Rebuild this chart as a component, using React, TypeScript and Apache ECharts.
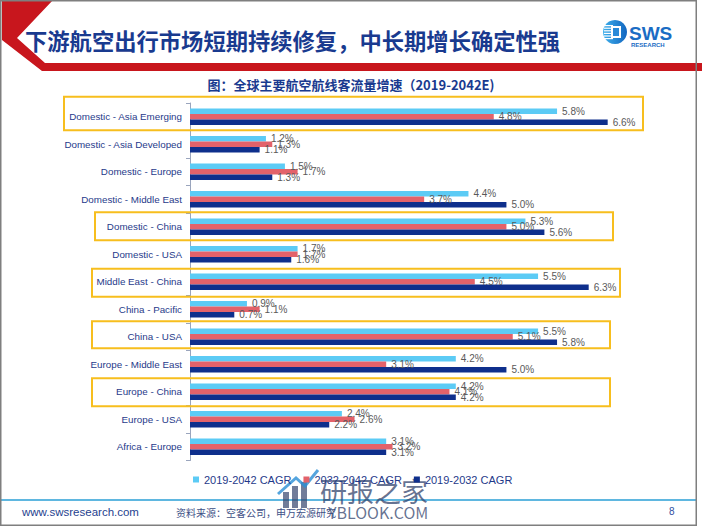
import React, { useEffect, useRef } from "react";
import * as echarts from "echarts";

const categories = [
  "Domestic - Asia Emerging",
  "Domestic - Asia Developed",
  "Domestic - Europe",
  "Domestic - Middle East",
  "Domestic - China",
  "Domestic - USA",
  "Middle East - China",
  "China - Pacific",
  "China - USA",
  "Europe - Middle East",
  "Europe - China",
  "Europe - USA",
  "Africa - Europe",
];
const cagr2019to2042 = [5.8, 1.2, 1.5, 4.4, 5.3, 1.7, 5.5, 0.9, 5.5, 4.2, 4.2, 2.4, 3.1];
const cagr2032to2042 = [4.8, 1.3, 1.7, 3.7, 5.0, 1.7, 4.5, 1.1, 5.1, 3.1, 4.1, 2.6, 3.2];
const cagr2019to2032 = [6.6, 1.1, 1.3, 5.0, 5.6, 1.6, 6.3, 0.7, 5.8, 5.0, 4.2, 2.2, 3.1];
const seriesNames = ["2019-2042 CAGR", "2032-2042 CAGR", "2019-2032 CAGR"];
const seriesColors = ["#5CCBF5", "#E3626A", "#0E2F8C"];
const highlighted = [
  "Domestic - Asia Emerging",
  "Domestic - China",
  "Middle East - China",
  "China - USA",
  "Europe - China",
];

const TITLE = "下游航空出行市场短期持续修复，中长期增长确定性强";
const SUBTITLE = "图：全球主要航空航线客流量增速（2019-2042E)";
const SOURCE = "资料来源：空客公司，申万宏源研究";

// highlight box horizontal extents (decoration) and paddings around the category centre
const boxSpecs = [
  { x0: 64, x1: 643, top: 20, bottom: 13.5 },
  { x0: 95, x1: 613, top: 14.5, bottom: 13.5 },
  { x0: 92, x1: 620, top: 13, bottom: 15 },
  { x0: 92, x1: 610, top: 15.5, bottom: 11.5 },
  { x0: 92, x1: 610, top: 13.5, bottom: 14.5 },
];

const CJK = "'Noto Sans CJK SC', 'Noto Sans', sans-serif";
const LATIN = "'Liberation Sans', Arial, sans-serif";

export default function App() {
  const ref = useRef<HTMLDivElement>(null);

  useEffect(() => {
    if (!ref.current) return;
    const chart = echarts.init(ref.current, undefined, { renderer: "svg" });
    const dataSets = [cagr2019to2042, cagr2032to2042, cagr2019to2032];

    chart.setOption({
      animation: false,
      backgroundColor: "#ffffff",
      grid: { left: 190, right: 69, top: 103, bottom: 66.5, containLabel: false },
      xAxis: { type: "value", min: 0, max: 7, show: false },
      yAxis: {
        type: "category",
        inverse: true,
        data: categories,
        axisLine: { show: true, lineStyle: { color: "#9aa5bd", width: 1 } },
        axisTick: { show: true, length: 4, lineStyle: { color: "#9aa5bd" } },
        axisLabel: { fontSize: 9.8, color: "#1f3a8a", margin: 8, fontFamily: LATIN },
        splitLine: { show: false },
      },
      legend: {
        data: seriesNames,
        left: 193,
        top: 474,
        padding: 0,
        icon: "rect",
        itemWidth: 6,
        itemHeight: 6,
        itemGap: 12,
        textStyle: { fontSize: 11, color: "#1f3a8a", fontFamily: LATIN },
      },
      series: seriesNames.map((name, i) => ({
        name,
        type: "bar",
        data: dataSets[i],
        barWidth: 5.5,
        barGap: "0%",
        itemStyle: { color: seriesColors[i] },
        label: {
          show: true,
          position: "right",
          distance: 5,
          fontSize: 10,
          color: "#595959",
          fontFamily: LATIN,
          formatter: (p: any) => Number(p.value).toFixed(1) + "%",
        },
      })),
    });

    const boxes = highlighted.map((cat, i) => {
      const cy = chart.convertToPixel({ yAxisIndex: 0 }, cat) as number;
      const s = boxSpecs[i];
      return {
        type: "rect",
        z: 10,
        shape: { x: s.x0, y: cy - s.top, width: s.x1 - s.x0, height: s.top + s.bottom },
        style: { fill: "none", stroke: "#F7BE1E", lineWidth: 2 },
        silent: true,
      };
    });

    const stripes = [0, 1, 2, 3, 4, 5].map((k) => ({
      type: "rect",
      shape: { x: 604, y: 25 + k * 2.6, width: 9, height: 1.2 },
      style: { fill: "#ffffff" },
    }));

    chart.setOption({
      graphic: [
        // header red shape
        {
          type: "polygon",
          shape: {
            points: [
              [2, 0], [53, 0], [17, 38], [45, 63], [702, 63], [702, 71], [42, 71], [2, 40],
            ],
          },
          style: { fill: "#C8161D" },
        },
        {
          type: "text",
          style: {
            text: TITLE,
            x: 25,
            y: 40,
            textVerticalAlign: "middle",
            font: `bold 22.3px ${CJK}`,
            fill: "#193A8F",
          },
        },
        // logo
        {
          type: "circle",
          shape: { cx: 615, cy: 32, r: 12 },
          style: {
            fill: new echarts.graphic.LinearGradient(0, 0, 1, 0, [
              { offset: 0, color: "#3fb0ec" },
              { offset: 1, color: "#1266c0" },
            ]),
          },
        },
        ...stripes,
        { type: "rect", shape: { x: 611, y: 26, width: 10, height: 12 }, style: { fill: "#ffffff" } },
        { type: "rect", shape: { x: 613, y: 28, width: 6, height: 8 }, style: { fill: "#2a8ad8" } },
        {
          type: "text",
          style: { text: "SWS", x: 629, y: 33, textVerticalAlign: "middle", font: `bold 19px ${LATIN}`, fill: "#1a6cc4" },
        },
        {
          type: "text",
          style: { text: "RESEARCH", x: 631, y: 45, textVerticalAlign: "middle", font: `bold 6px ${LATIN}`, fill: "#1a6cc4" },
        },
        // subtitle
        {
          type: "text",
          style: {
            text: SUBTITLE,
            x: 351,
            y: 84,
            textAlign: "center",
            textVerticalAlign: "middle",
            font: `bold 13px ${CJK}`,
            fill: "#193A8F",
          },
        },
        ...boxes,
        // footer
        {
          type: "line",
          shape: { x1: 0, y1: 500, x2: 696, y2: 500 },
          style: { stroke: "#2a9fd6", lineWidth: 1.5 },
        },
        {
          type: "text",
          style: { text: "www.swsresearch.com", x: 22, y: 512, textVerticalAlign: "middle", font: `11.5px ${LATIN}`, fill: "#1f3f8f" },
        },
        {
          type: "text",
          style: { text: SOURCE, x: 176, y: 512, textVerticalAlign: "middle", font: `10px ${CJK}`, fill: "#3d4f86" },
        },
        {
          type: "text",
          style: { text: "8", x: 669, y: 511, textVerticalAlign: "middle", font: `10px ${LATIN}`, fill: "#3050a0" },
        },
        // watermark
        {
          type: "group",
          z: 20,
          children: [
            { type: "rect", shape: { x: 283, y: 492, width: 6, height: 16 }, style: { fill: "#34456e", opacity: 0.7 } },
            { type: "rect", shape: { x: 292, y: 486, width: 6, height: 22 }, style: { fill: "#34456e", opacity: 0.7 } },
            { type: "rect", shape: { x: 301, y: 482, width: 6, height: 26 }, style: { fill: "#34456e", opacity: 0.7 } },
            {
              type: "polyline",
              shape: { points: [[278, 494], [296, 478], [305, 486], [318, 470]] },
              style: { stroke: "#2a8fd6", lineWidth: 3, opacity: 0.8 },
            },
            {
              type: "text",
              style: { text: "研报之家", x: 320, y: 490, textVerticalAlign: "middle", font: `27px ${CJK}`, fill: "#34456e", opacity: 0.75 },
            },
            {
              type: "text",
              style: { text: "YBLOOK.COM", x: 328, y: 512, textVerticalAlign: "middle", font: `16px ${CJK}`, fill: "#34456e", opacity: 0.75 },
            },
          ],
        },
        // frame
        {
          type: "rect",
          z: 30,
          shape: { x: 0.75, y: 0.75, width: 695.5, height: 524.5 },
          style: { fill: "none", stroke: "#7f7f7f", lineWidth: 1.5 },
        },
      ],
    });

    return () => chart.dispose();
  }, []);

  return (
    <div
      ref={ref}
      style={{ position: "absolute", left: 0, top: 0, width: 702, height: 527 }}
    />
  );
}
